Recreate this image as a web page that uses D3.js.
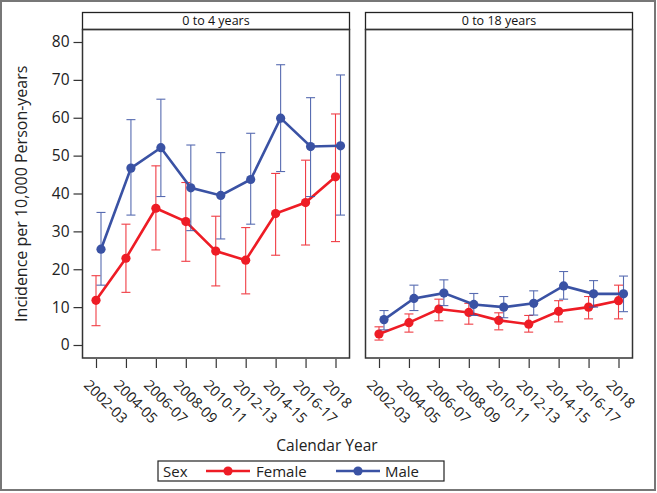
<!DOCTYPE html>
<html>
<head>
<meta charset="utf-8">
<script src="https://cdn.jsdelivr.net/npm/d3@7/dist/d3.min.js"></script>
<style>
  html, body { margin: 0; padding: 0; background: #fff; }
  svg { display: block; font-family: "Open Sans", "DejaVu Sans", sans-serif; }
</style>
</head>
<body>
<svg id="chart" width="657" height="493"></svg>
<script>
// ---------- DATA ----------
const categories = ["2002-03","2004-05","2006-07","2008-09","2010-11","2012-13","2014-15","2016-17","2018"];
const panels = ["0 to 4 years", "0 to 18 years"];
const seriesNames = ["Female", "Male"];
const yTicks = [0, 10, 20, 30, 40, 50, 60, 70, 80];

// 0 to 4 years
const female04      = [11.8, 22.9, 36.1, 32.6, 24.8, 22.4, 34.7, 37.6, 44.4];
const female04Upper = [18.3, 31.9, 47.3, 42.9, 34.0, 31.0, 45.3, 48.8, 61.0];
const female04Lower = [5.1, 13.9, 25.1, 22.1, 15.6, 13.5, 23.7, 26.4, 27.3];
const male04        = [25.3, 46.7, 52.1, 41.5, 39.5, 43.7, 59.9, 52.4, 52.6];
const male04Upper   = [35.0, 59.5, 64.9, 52.8, 50.8, 55.9, 74.0, 65.3, 71.3];
const male04Lower   = [15.8, 34.3, 39.2, 30.2, 28.0, 31.9, 45.8, 39.2, 34.3];

// 0 to 18 years
const female018      = [2.9, 5.9, 9.5, 8.6, 6.5, 5.5, 8.9, 10.0, 11.7];
const female018Upper = [4.8, 8.2, 12.1, 11.0, 8.5, 7.8, 11.7, 12.8, 15.8];
const female018Lower = [1.3, 3.4, 6.4, 5.5, 4.0, 3.4, 6.1, 6.9, 6.9];
const male018        = [6.7, 12.3, 13.7, 10.7, 10.0, 11.0, 15.6, 13.5, 13.5];
const male018Upper   = [9.1, 15.8, 17.2, 13.6, 12.8, 14.3, 19.4, 17.0, 18.2];
const male018Lower   = [4.0, 9.1, 10.4, 7.8, 7.2, 7.9, 12.1, 10.0, 8.8];

// ---------- STYLE ----------
const colors = { Female: "#ee1c25", Male: "#3a52a4" };
const offsets = { Female: 0, Male: 5 };

const svg = d3.select("#chart");

// outer frame
svg.append("rect").attr("x", 1).attr("y", 1).attr("width", 654).attr("height", 489)
  .attr("fill", "none").attr("stroke", "#777").attr("stroke-width", 2);

const plotTop = 29.5, plotBottom = 358, headerTop = 12.5;
const panelX = [[82.5, 349.5], [365.5, 632.5]];

const y = d3.scaleLinear().domain([0, 80]).range([345, 42]);

const panelData = [
  { Female: { v: female04, u: female04Upper, l: female04Lower }, Male: { v: male04, u: male04Upper, l: male04Lower } },
  { Female: { v: female018, u: female018Upper, l: female018Lower }, Male: { v: male018, u: male018Upper, l: male018Lower } }
];

panels.forEach((title, pi) => {
  const [x0, x1] = panelX[pi];
  const x = d3.scalePoint().domain(categories).range([x0 + 13.5, x1 - 14]);
  const g = svg.append("g");

  // header
  g.append("rect").attr("x", x0).attr("y", headerTop).attr("width", x1 - x0).attr("height", plotTop - headerTop)
    .attr("fill", "#fff").attr("stroke", "#222").attr("stroke-width", 1.3);
  g.append("text").attr("x", (x0 + x1) / 2).attr("y", plotTop - 4.5).attr("text-anchor", "middle")
    .attr("font-size", 12.5).attr("fill", "#111").text(title);

  // frame
  g.append("rect").attr("x", x0).attr("y", plotTop).attr("width", x1 - x0).attr("height", plotBottom - plotTop)
    .attr("fill", "none").attr("stroke", "#333").attr("stroke-width", 1.5);

  // x axis ticks
  const xAxis = d3.axisBottom(x).tickSize(9).tickPadding(0).tickFormat("");
  const xa = g.append("g").attr("transform", `translate(0,${plotBottom + 1})`).call(xAxis);
  xa.select(".domain").remove();
  xa.selectAll(".tick line").attr("stroke", "#333").attr("stroke-width", 1.2);
  g.selectAll(".xlab").data(categories).enter().append("text")
    .attr("transform", d => `translate(${x(d) - 13},${plotBottom + 28}) rotate(45)`)
    .attr("font-size", 14.5).attr("fill", "#222").text(d => d);

  // y axis (left panel only)
  if (pi === 0) {
    const yAxis = d3.axisLeft(y).tickValues(yTicks).tickSize(9).tickPadding(4);
    const ya = g.append("g").attr("transform", `translate(${x0},0)`).call(yAxis);
    ya.select(".domain").remove();
    ya.selectAll(".tick line").attr("stroke", "#333").attr("stroke-width", 1.2);
    ya.selectAll(".tick text").attr("font-size", 15.5).attr("fill", "#222").attr("font-family", "Open Sans, sans-serif");
  }

  // series
  seriesNames.forEach(s => {
    const d = panelData[pi][s];
    const pts = categories.map((c, i) => ({ c, v: d.v[i], u: d.u[i], l: d.l[i], xp: x(c) + offsets[s] }));
    const col = colors[s];
    const eb = g.append("g").attr("stroke", col).attr("stroke-width", 1.1).attr("opacity", 0.85);
    eb.selectAll("line.v").data(pts).enter().append("line")
      .attr("x1", p => p.xp).attr("x2", p => p.xp).attr("y1", p => y(p.u)).attr("y2", p => y(p.l));
    eb.selectAll("line.t").data(pts).enter().append("line")
      .attr("x1", p => p.xp - 4.5).attr("x2", p => p.xp + 4.5).attr("y1", p => y(p.u)).attr("y2", p => y(p.u));
    eb.selectAll("line.b").data(pts).enter().append("line")
      .attr("x1", p => p.xp - 4.5).attr("x2", p => p.xp + 4.5).attr("y1", p => y(p.l)).attr("y2", p => y(p.l));
    g.append("path").datum(pts)
      .attr("d", d3.line().x(p => p.xp).y(p => y(p.v)))
      .attr("fill", "none").attr("stroke", col).attr("stroke-width", 2.6);
    g.selectAll(null).data(pts).enter().append("circle")
      .attr("cx", p => p.xp).attr("cy", p => y(p.v)).attr("r", 4.6).attr("fill", col);
  });
});

// y axis label
svg.append("text").attr("transform", `translate(27,${(plotTop + plotBottom) / 2}) rotate(-90)`)
  .attr("text-anchor", "middle").attr("font-size", 16).attr("fill", "#222")
  .text("Incidence per 10,000 Person-years");

// x axis label
svg.append("text").attr("x", 327).attr("y", 451).attr("text-anchor", "middle")
  .attr("font-size", 15.5).attr("fill", "#222").text("Calendar Year");

// legend
const lg = svg.append("g");
lg.append("rect").attr("x", 158).attr("y", 461).attr("width", 286).attr("height", 20)
  .attr("fill", "#fff").attr("stroke", "#222").attr("stroke-width", 1.2);
lg.append("text").attr("x", 163).attr("y", 476.5).attr("font-size", 15).attr("fill", "#222").text("Sex");
const legItems = [{ s: "Female", lx: 206, tx: 256 }, { s: "Male", lx: 336, tx: 385 }];
legItems.forEach(it => {
  lg.append("line").attr("x1", it.lx).attr("x2", it.lx + 44).attr("y1", 471).attr("y2", 471)
    .attr("stroke", colors[it.s]).attr("stroke-width", 2.6);
  lg.append("circle").attr("cx", it.lx + 22).attr("cy", 471).attr("r", 4.6).attr("fill", colors[it.s]);
  lg.append("text").attr("x", it.tx).attr("y", 476.5).attr("font-size", 15).attr("fill", "#222").text(it.s);
});
</script>
</body>
</html>
